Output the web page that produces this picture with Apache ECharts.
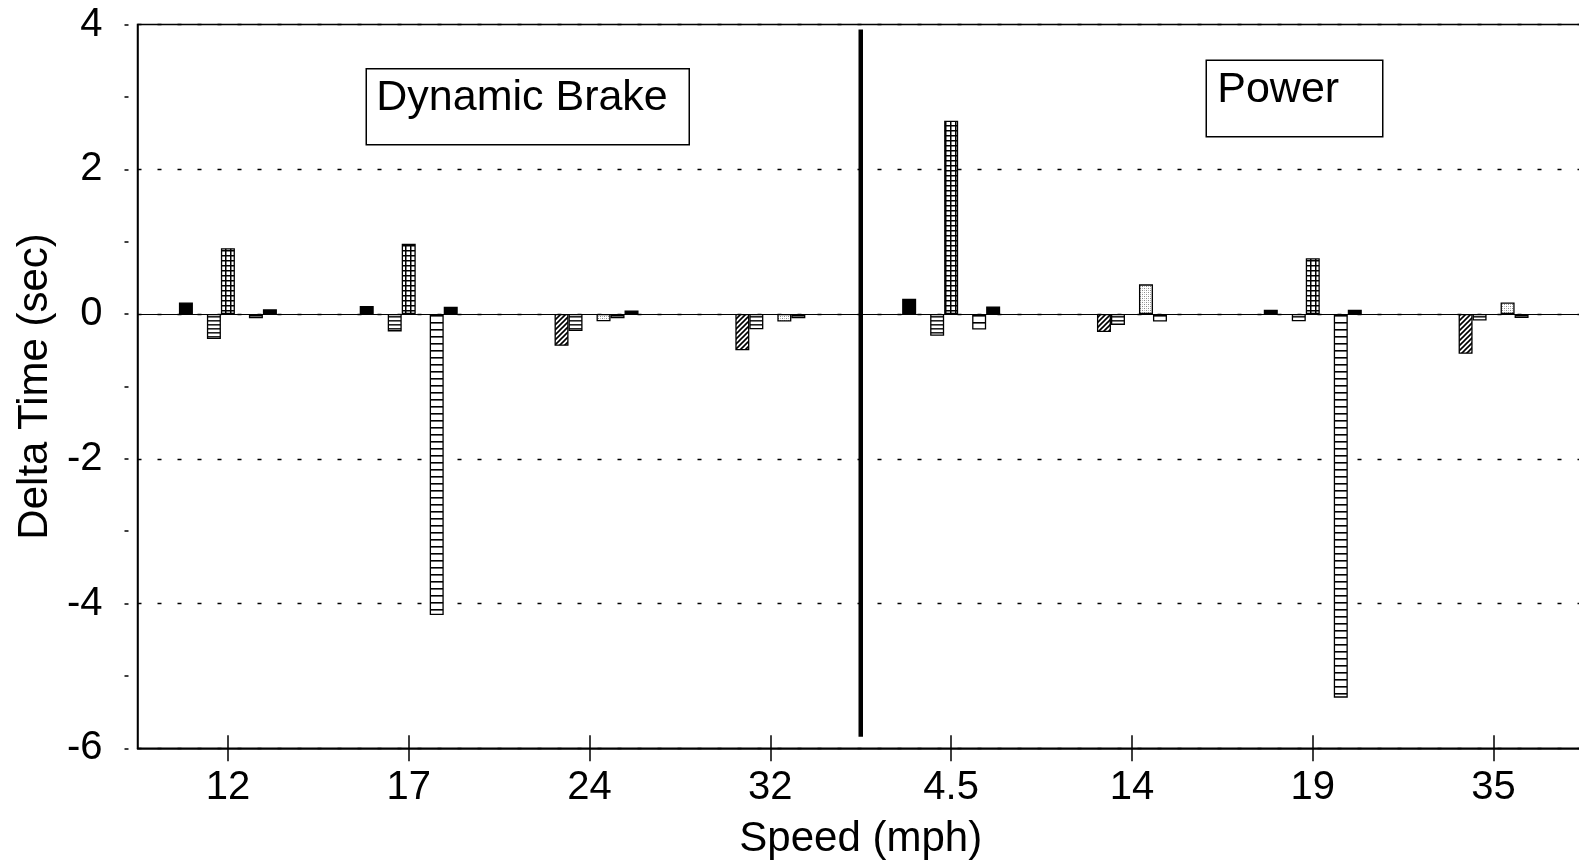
<!DOCTYPE html>
<html>
<head>
<meta charset="utf-8">
<script src="https://cdn.jsdelivr.net/npm/echarts@6/dist/echarts.min.js"></script>
<style>
  html, body { margin: 0; padding: 0; background: #fff; }
  #chart { width: 1579px; height: 862px; }
</style>
</head>
<body>
<div id="chart"></div>
<script>
// Speed categories: dynamic brake runs, then power runs
const categories = ['12', '17', '24', '32', '4.5', '14', '19', '35'];

// Delta time (sec) per configuration, one array per bar slot in each group
const solidA   = [0.16, 0.11, null, null, 0.21, null, 0.06, null];
const diagonal = [null, null, -0.44, -0.5, null, -0.25, null, -0.55];
const fineRule = [-0.345, -0.24, -0.235, -0.21, -0.3, -0.15, -0.1, -0.09];
const checker  = [0.91, 0.97, null, null, 2.67, null, 0.77, null];
const stipple  = [null, null, -0.1, -0.105, null, 0.41, null, 0.16];
const ladder   = [-0.06, -4.16, -0.06, -0.06, -0.215, -0.105, -5.3, -0.055];
const solidB   = [0.065, 0.10, 0.05, null, 0.105, null, 0.06, null];

// Divider between the two test modes (category index space)
const dividerX = 3.5;
const dividerSpan = [3.93, -5.84];

const yTicks = { min: -6, max: 4, step: 2 };
const FONT = '"Liberation Sans", Arial, Helvetica, sans-serif';

function pattern(w, h, draw) {
  const c = document.createElement('canvas');
  c.width = w; c.height = h;
  const g = c.getContext('2d');
  g.fillStyle = '#fff';
  g.fillRect(0, 0, w, h);
  draw(g, w, h);
  return { image: c, repeat: 'repeat' };
}

const fills = {
  solid: '#000',
  diagonal: pattern(5, 5, (g, w, h) => {
    g.strokeStyle = '#000'; g.lineWidth = 1.6;
    g.beginPath();
    g.moveTo(-1, h + 1); g.lineTo(w + 1, -1);
    g.moveTo(-1 - w, h + 1); g.lineTo(1, -1);
    g.moveTo(w - 1, h + 1); g.lineTo(2 * w + 1, -1);
    g.stroke();
  }),
  fineRule: pattern(4, 4, (g, w) => {
    g.fillStyle = '#222'; g.fillRect(0, 0, w, 1.6);
  }),
  checker: pattern(5, 5, (g, w, h) => {
    g.fillStyle = '#000';
    g.fillRect(0, 0, w, 1.5);
    g.fillRect(0, 0, 1.5, h);
  }),
  stipple: pattern(4, 4, (g) => {
    g.fillStyle = '#8a8a8a';
    g.fillRect(0, 0, 1, 1); g.fillRect(2, 2, 1, 1);
    g.fillStyle = '#bbb';
    g.fillRect(2, 0, 1, 1); g.fillRect(0, 2, 1, 1);
  }),
  ladder: pattern(7, 7, (g, w) => {
    g.fillStyle = '#000'; g.fillRect(0, 0, w, 1.6);
  })
};

const seriesDefs = [
  { name: 'A', data: solidA, fill: fills.solid },
  { name: 'B', data: diagonal, fill: fills.diagonal },
  { name: 'C', data: fineRule, fill: fills.fineRule },
  { name: 'D', data: checker, fill: fills.checker },
  { name: 'E', data: stipple, fill: fills.stipple },
  { name: 'F', data: ladder, fill: fills.ladder },
  { name: 'G', data: solidB, fill: fills.solid }
];

const barSeries = seriesDefs.map((s, i) => {
  const out = {
    name: s.name,
    type: 'bar',
    xAxisIndex: 0,
    yAxisIndex: 0,
    data: s.data,
    barWidth: 14,
    barGap: '0%',
    itemStyle: { color: s.fill, borderColor: '#000', borderWidth: 1.3 },
    emphasis: { disabled: true },
    z: 3
  };
  if (i === 0) {
    out.markLine = {
      silent: true,
      symbol: 'none',
      label: { show: false },
      lineStyle: { color: '#000', width: 1.2, type: 'solid' },
      data: [{ yAxis: 0 }],
      z: 2
    };
  }
  return out;
});

const chart = echarts.init(document.getElementById('chart'), null, { renderer: 'canvas' });

chart.setOption({
  animation: false,
  backgroundColor: '#fff',
  grid: {
    left: 137.5, right: -5, top: 24.5, bottom: 113.7,
    containLabel: false,
    outerBoundsMode: 'none',
    show: true, borderColor: '#000', borderWidth: 1.5, backgroundColor: 'transparent'
  },
  xAxis: [
    {
      type: 'category',
      data: categories,
      position: 'bottom',
      name: 'Speed (mph)',
      nameLocation: 'middle',
      nameGap: 70,
      nameTextStyle: { fontFamily: FONT, fontSize: 42, color: '#000' },
      axisLine: { onZero: false, lineStyle: { color: '#000', width: 1.5 } },
      axisTick: { show: true, alignWithLabel: true, length: 13, lineStyle: { color: '#000', width: 1.5 } },
      axisLabel: { fontFamily: FONT, fontSize: 40, color: '#000', margin: 20 },
      splitLine: { show: false }
    },
    {
      type: 'category',
      data: categories,
      position: 'bottom',
      axisLine: { show: false, onZero: false },
      axisTick: { show: true, inside: true, alignWithLabel: true, length: 13, lineStyle: { color: '#000', width: 1.5 } },
      axisLabel: { show: false },
      splitLine: { show: false }
    },
    {
      type: 'value',
      show: false,
      min: -0.5,
      max: categories.length - 0.5
    }
  ],
  yAxis: [
    {
      type: 'value',
      position: 'left',
      min: yTicks.min,
      max: yTicks.max,
      interval: yTicks.step,
      name: 'Delta Time (sec)',
      nameLocation: 'middle',
      nameGap: 81,
      nameTextStyle: { fontFamily: FONT, fontSize: 42, color: '#000' },
      axisLine: { onZero: false, lineStyle: { color: '#000', width: 1.5 } },
      axisTick: { show: false },
      axisLabel: { fontFamily: FONT, fontSize: 40, color: '#000', margin: 35 },
      splitLine: { show: true, lineStyle: { color: '#000', width: 1.4, type: [4, 16] } }
    },
    {
      type: 'value',
      position: 'left',
      offset: 9,
      min: yTicks.min,
      max: yTicks.max,
      interval: yTicks.step,
      axisLine: { show: false, onZero: false },
      axisTick: { show: true, length: 4, lineStyle: { color: '#000', width: 1.5 } },
      minorTick: { show: true, splitNumber: 2, length: 4, lineStyle: { color: '#000', width: 1.5 } },
      axisLabel: { show: false },
      splitLine: { show: false }
    }
  ],
  series: barSeries.concat([
    {
      type: 'line',
      xAxisIndex: 2,
      yAxisIndex: 0,
      data: dividerSpan.map(v => [dividerX, v]),
      symbol: 'none',
      silent: true,
      lineStyle: { color: '#000', width: 4.5 },
      z: 4
    }
  ]),
  graphic: [
    {
      type: 'group',
      left: 365.5, top: 68,
      children: [
        { type: 'rect', shape: { x: 0, y: 0, width: 323, height: 76 },
          style: { fill: '#fff', stroke: '#000', lineWidth: 1.5 } },
        { type: 'text', x: 10, y: 29,
          style: { text: 'Dynamic Brake', font: '43px ' + FONT, fill: '#000', verticalAlign: 'middle', align: 'left' } }
      ]
    },
    {
      type: 'group',
      left: 1205.5, top: 59.5,
      children: [
        { type: 'rect', shape: { x: 0, y: 0, width: 176.5, height: 76.5 },
          style: { fill: '#fff', stroke: '#000', lineWidth: 1.5 } },
        { type: 'text', x: 11, y: 29.5,
          style: { text: 'Power', font: '43px ' + FONT, fill: '#000', verticalAlign: 'middle', align: 'left' } }
      ]
    }
  ]
});
</script>
</body>
</html>
